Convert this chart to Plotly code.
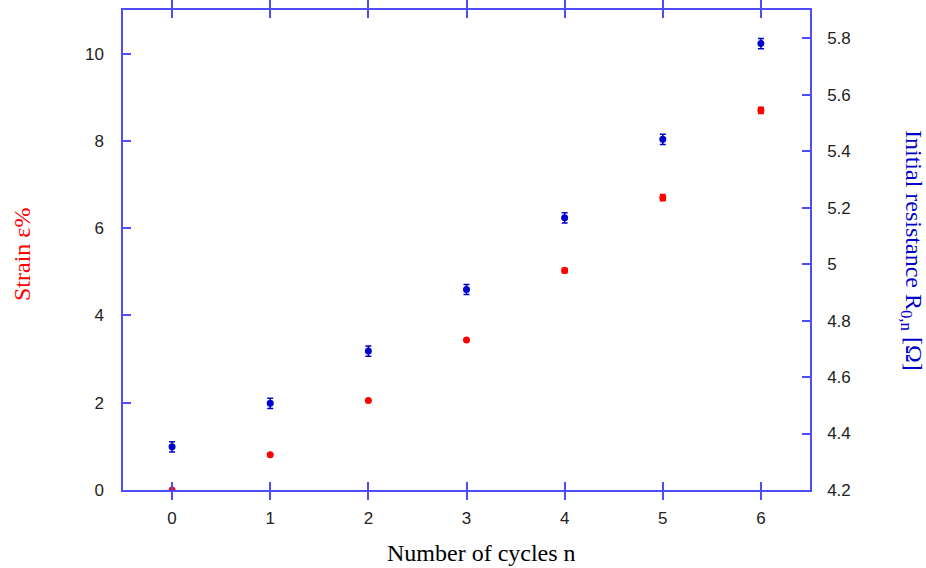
import plotly.graph_objects as go

cycles = [0, 1, 2, 3, 4, 5, 6]
strain = [0.0, 0.81, 2.05, 3.44, 5.03, 6.70, 8.70]
strain_err = [0, 0, 0, 0, 0.05, 0.07, 0.07]
resistance = [4.353, 4.507, 4.692, 4.910, 5.164, 5.442, 5.781]
resistance_err = [0.018, 0.018, 0.018, 0.018, 0.018, 0.018, 0.018]

axis_blue = "#4d4dff"
tick_font = dict(family="Liberation Sans, Arial, sans-serif", size=17, color="#222222")
serif = "Liberation Serif, Times New Roman, serif"

fig = go.Figure()
fig.add_trace(go.Scatter(
    x=cycles, y=strain, mode="markers",
    marker=dict(color="#ff0000", size=7),
    error_y=dict(type="data", array=strain_err, color="#ff0000", thickness=1.5, width=3),
    yaxis="y", showlegend=False))
fig.add_trace(go.Scatter(
    x=cycles, y=resistance, mode="markers",
    marker=dict(color="#0000cc", size=7),
    error_y=dict(type="data", array=resistance_err, color="#0000cc", thickness=1.5, width=3),
    yaxis="y2", showlegend=False))

fig.update_layout(
    width=926, height=568,
    margin=dict(l=123, r=116, t=10, b=78, autoexpand=False),
    paper_bgcolor="white", plot_bgcolor="white",
    xaxis=dict(range=[-0.5, 6.5], tickvals=cycles, ticks="inside", ticklen=8,
               tickcolor=axis_blue, tickwidth=1.5, showline=True, linecolor=axis_blue,
               linewidth=1.5, mirror="allticks", showgrid=False, zeroline=False,
               tickfont=tick_font, ticklabelstandoff=12, automargin=False),
    yaxis=dict(range=[0, 11], tickvals=[0, 2, 4, 6, 8, 10], ticks="inside", ticklen=8,
               tickcolor=axis_blue, tickwidth=1.5, showline=True, linecolor=axis_blue,
               linewidth=1.5, showgrid=False, zeroline=False, tickfont=tick_font,
               ticklabelstandoff=14, automargin=False),
    yaxis2=dict(range=[4.2, 5.9], tickvals=[4.2, 4.4, 4.6, 4.8, 5.0, 5.2, 5.4, 5.6, 5.8],
                ticktext=["4.2", "4.4", "4.6", "4.8", "5", "5.2", "5.4", "5.6", "5.8"],
                overlaying="y", side="right", ticks="inside", ticklen=8,
                tickcolor=axis_blue, tickwidth=1.5, showline=True, linecolor=axis_blue,
                linewidth=1.5, showgrid=False, zeroline=False, tickfont=tick_font,
                ticklabelstandoff=12, automargin=False),
)
fig.add_annotation(
    text="Number of cycles n", xref="paper", yref="paper", x=0.5, y=0,
    xshift=15, yshift=-63, showarrow=False, yanchor="middle",
    font=dict(family=serif, size=24, color="black"))
fig.add_annotation(
    text="Strain ε%", textangle=-90, xref="paper", yref="paper", x=0, xshift=-101,
    y=0.5, yshift=-5, showarrow=False, xanchor="center",
    font=dict(family=serif, size=24, color="#ff0000"))
fig.add_annotation(
    text="Initial resistance R<sub>0,n</sub> [Ω]", textangle=90,
    xref="paper", yref="paper", x=1.0, xshift=102, y=0.5, showarrow=False,
    xanchor="center", font=dict(family=serif, size=24, color="#0000cc"))

fig.write_html("out.html")
